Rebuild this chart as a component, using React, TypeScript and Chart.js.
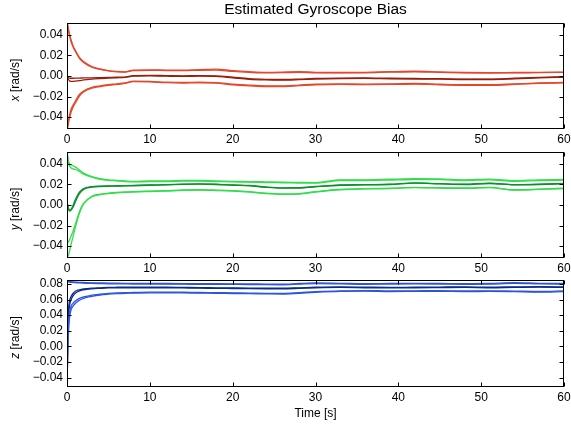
import React, { useEffect, useRef } from 'react';
import { Chart, registerables } from 'chart.js';

Chart.register(...registerables);

const FONT = "'Liberation Sans', Arial, Helvetica, sans-serif";

const times = [0, 0.15, 0.3, 0.5, 0.75, 1, 1.5, 2, 3, 4, 5, 6, 7, 8, 10, 12, 14, 16, 18, 20, 22, 24, 26, 28, 30, 33, 36, 39, 42, 45, 48, 51, 54, 57, 60];
const xTicks = [0, 10, 20, 30, 40, 50, 60];
const title = 'Estimated Gyroscope Bias';
const xLabel = 'Time [s]';

// x-axis gyro bias
const xUpperA = [0.054, 0.047, 0.041, 0.035, 0.029, 0.025, 0.018, 0.014, 0.0092, 0.0068, 0.0052, 0.0044, 0.004, 0.0058, 0.006, 0.0058, 0.0058, 0.0062, 0.0066, 0.0052, 0.0042, 0.0036, 0.0038, 0.0042, 0.0036, 0.0034, 0.0036, 0.0042, 0.0046, 0.004, 0.0034, 0.0032, 0.0034, 0.0036, 0.0038];
const xUpperB = [0.052, 0.045, 0.039, 0.033, 0.028, 0.024, 0.0172, 0.0132, 0.0086, 0.0064, 0.0049, 0.0041, 0.0037, 0.0052, 0.0055, 0.0053, 0.0052, 0.0056, 0.0058, 0.0045, 0.0036, 0.003, 0.0032, 0.0036, 0.0031, 0.003, 0.0031, 0.0037, 0.0041, 0.0036, 0.003, 0.0028, 0.003, 0.0033, 0.0035];
const xMidA = [-0.001, -0.0015, -0.002, -0.0022, -0.0022, -0.0021, -0.002, -0.0019, -0.0018, -0.0016, -0.0014, -0.0012, -0.001, 0.0004, 0.0006, 0.0004, 0.0002, 0.0004, 0.0002, -0.0012, -0.0026, -0.0032, -0.0034, -0.003, -0.0024, -0.002, -0.0018, -0.0022, -0.0024, -0.0026, -0.003, -0.003, -0.0022, -0.0014, -0.0008];
const xMidB = [-0.001, -0.003, -0.0045, -0.0052, -0.0052, -0.005, -0.0045, -0.0038, -0.003, -0.0025, -0.0021, -0.0017, -0.0013, -0.0002, 0.0001, -0.0002, -0.0004, -0.0001, -0.0004, -0.0018, -0.0032, -0.0038, -0.004, -0.0036, -0.003, -0.0025, -0.0023, -0.0027, -0.0029, -0.003, -0.0034, -0.0034, -0.0027, -0.0019, -0.0012];
const xLowerA = [-0.054, -0.047, -0.041, -0.035, -0.03, -0.0265, -0.0195, -0.0155, -0.0118, -0.0102, -0.009, -0.0082, -0.0072, -0.0055, -0.0058, -0.0065, -0.0068, -0.0066, -0.007, -0.0085, -0.0095, -0.0102, -0.0102, -0.0094, -0.0086, -0.0082, -0.0084, -0.0082, -0.0078, -0.0086, -0.009, -0.009, -0.0082, -0.0072, -0.0066];
const xLowerB = [-0.052, -0.044, -0.038, -0.032, -0.028, -0.0245, -0.018, -0.0145, -0.011, -0.0095, -0.0084, -0.0077, -0.0068, -0.005, -0.0053, -0.006, -0.0063, -0.006, -0.0064, -0.0078, -0.0088, -0.0095, -0.0096, -0.0088, -0.008, -0.0076, -0.0078, -0.0077, -0.0073, -0.008, -0.0085, -0.0085, -0.0077, -0.0068, -0.0062];

// y-axis gyro bias
const yUpperA = [0.054, 0.044, 0.04, 0.039, 0.038, 0.037, 0.034, 0.031, 0.0275, 0.0255, 0.0245, 0.024, 0.0235, 0.023, 0.0235, 0.0235, 0.024, 0.0238, 0.0235, 0.023, 0.0228, 0.0225, 0.0222, 0.022, 0.0218, 0.0244, 0.0245, 0.025, 0.0255, 0.0254, 0.0245, 0.0252, 0.0237, 0.0245, 0.0248];
const yUpperB = [0.05, 0.041, 0.038, 0.036, 0.035, 0.0345, 0.0325, 0.03, 0.027, 0.025, 0.024, 0.0235, 0.0228, 0.0224, 0.0228, 0.0228, 0.0233, 0.0232, 0.0228, 0.0224, 0.0222, 0.0218, 0.0216, 0.0214, 0.0212, 0.0238, 0.0238, 0.0243, 0.0248, 0.0247, 0.0238, 0.0245, 0.0231, 0.0238, 0.0241];
const yMidA = [0.003, -0.002, -0.005, -0.004, 0.0, 0.005, 0.0125, 0.016, 0.0178, 0.0183, 0.0185, 0.0187, 0.0188, 0.019, 0.0195, 0.0198, 0.0203, 0.0205, 0.0202, 0.0195, 0.019, 0.0175, 0.0167, 0.0168, 0.018, 0.0195, 0.0198, 0.0202, 0.0215, 0.0208, 0.0202, 0.0212, 0.0198, 0.0202, 0.021];
const yMidB = [0.001, -0.004, -0.006, -0.005, -0.002, 0.003, 0.011, 0.0152, 0.0175, 0.018, 0.0182, 0.0184, 0.0185, 0.0187, 0.0192, 0.0195, 0.02, 0.0202, 0.0199, 0.0192, 0.0187, 0.0172, 0.0164, 0.0165, 0.0177, 0.0192, 0.0195, 0.0199, 0.0212, 0.0205, 0.0199, 0.0209, 0.0195, 0.0199, 0.0207];
const yLowerA = [-0.052, -0.049, -0.045, -0.038, -0.03, -0.022, -0.008, 0.001, 0.0085, 0.0105, 0.0115, 0.0122, 0.0127, 0.013, 0.0135, 0.014, 0.0146, 0.0148, 0.0145, 0.014, 0.013, 0.0115, 0.0108, 0.011, 0.013, 0.0152, 0.016, 0.0163, 0.0172, 0.0168, 0.0165, 0.0172, 0.0148, 0.0155, 0.0163];
const yLowerB = [-0.038, -0.036, -0.034, -0.03, -0.025, -0.019, -0.0065, 0.0015, 0.008, 0.01, 0.0111, 0.0118, 0.0123, 0.0126, 0.0131, 0.0136, 0.0142, 0.0144, 0.0141, 0.0136, 0.0126, 0.0111, 0.0104, 0.0106, 0.0126, 0.0148, 0.0156, 0.0159, 0.0168, 0.0164, 0.0161, 0.0168, 0.0144, 0.0151, 0.0159];

// z-axis gyro bias
const zUpperA = [0.084, 0.0835, 0.083, 0.0828, 0.0826, 0.0824, 0.082, 0.0818, 0.0814, 0.0812, 0.081, 0.0809, 0.0808, 0.0807, 0.0806, 0.0805, 0.0804, 0.0803, 0.0802, 0.0801, 0.08, 0.0798, 0.0797, 0.0805, 0.0812, 0.0808, 0.0803, 0.0806, 0.0808, 0.0806, 0.0803, 0.0805, 0.0815, 0.0808, 0.0806];
const zUpperB = [0.083, 0.0826, 0.0822, 0.082, 0.0818, 0.0816, 0.0812, 0.081, 0.0806, 0.0804, 0.0802, 0.0801, 0.08, 0.0799, 0.0798, 0.0797, 0.0796, 0.0795, 0.0794, 0.0793, 0.0792, 0.079, 0.0789, 0.0797, 0.0804, 0.08, 0.0795, 0.0798, 0.08, 0.0798, 0.0795, 0.0797, 0.0806, 0.08, 0.0798];
const zMidA = [0.025, 0.045, 0.058, 0.064, 0.068, 0.0705, 0.0725, 0.0735, 0.0745, 0.075, 0.0755, 0.0757, 0.0758, 0.0758, 0.0758, 0.0757, 0.0755, 0.0753, 0.075, 0.0748, 0.0746, 0.0745, 0.0745, 0.075, 0.0757, 0.0762, 0.0758, 0.0755, 0.0758, 0.076, 0.0762, 0.0758, 0.0762, 0.0765, 0.0762];
const zMidB = [0.015, 0.038, 0.052, 0.06, 0.065, 0.068, 0.0712, 0.0725, 0.0737, 0.0743, 0.0748, 0.075, 0.0751, 0.0751, 0.0751, 0.075, 0.0748, 0.0746, 0.0743, 0.0741, 0.0739, 0.0738, 0.0738, 0.0743, 0.075, 0.0755, 0.0751, 0.0748, 0.0751, 0.0753, 0.0755, 0.0751, 0.0755, 0.0758, 0.0755];
const zLowerA = [-0.052, 0.02, 0.043, 0.0515, 0.0555, 0.058, 0.0615, 0.0635, 0.0655, 0.067, 0.0678, 0.0684, 0.0688, 0.069, 0.0694, 0.0695, 0.0693, 0.069, 0.0688, 0.0685, 0.0683, 0.068, 0.0678, 0.0688, 0.07, 0.0712, 0.0715, 0.071, 0.0712, 0.0714, 0.071, 0.0712, 0.0708, 0.0703, 0.071];
const zLowerB = [-0.045, 0.01, 0.036, 0.047, 0.052, 0.055, 0.059, 0.0615, 0.064, 0.0658, 0.0668, 0.0675, 0.068, 0.0682, 0.0686, 0.0687, 0.0685, 0.0682, 0.068, 0.0677, 0.0675, 0.0672, 0.067, 0.068, 0.0692, 0.0704, 0.0707, 0.0702, 0.0704, 0.0706, 0.0702, 0.0704, 0.07, 0.0695, 0.0702];

const panels = [
  {
    v: 'x', top: 23, bottom: 129, min: -0.0515, max: 0.0515,
    bound: '#e6472c', mid: '#9a1d0a',
    lines: [[xUpperA, 'b'], [xUpperB, 'b'], [xLowerA, 'b'], [xLowerB, 'b'], [xMidA, 'm'], [xMidB, 'm']],
  },
  {
    v: 'y', top: 152, bottom: 258, min: -0.0515, max: 0.0515,
    bound: '#33dd4d', mid: '#0e8f2c',
    lines: [[yUpperA, 'b'], [yUpperB, 'b'], [yLowerA, 'b'], [yLowerB, 'b'], [yMidA, 'm'], [yMidB, 'm']],
  },
  {
    v: 'z', top: 280, bottom: 387, min: -0.052, max: 0.085,
    bound: '#2b55e0', mid: '#0d2a8e',
    lines: [[zUpperA, 'b'], [zUpperB, 'b'], [zLowerA, 'b'], [zLowerB, 'b'], [zMidA, 'm'], [zMidB, 'm']],
  },
];

function fmt(v: number) {
  if (Math.abs(v) < 1e-9) return '0.00';
  const s = v.toFixed(2);
  return s.startsWith('-') ? '\u2212' + s.slice(1) : s;
}

function makeFramePlugin(varName: string) {
  return {
    id: 'frame_' + varName,
    afterDraw(chart: any) {
      const { ctx, chartArea: a, scales } = chart;
      const L = Math.round(a.left) + 0.5;
      const R = Math.round(a.right) - 0.5;
      const T = Math.round(a.top) + 0.5;
      const B = Math.round(a.bottom) - 0.5;
      ctx.save();
      ctx.strokeStyle = '#000';
      ctx.lineWidth = 1;
      ctx.strokeRect(L, T, R - L, B - T);
      const tl = 4;
      ctx.beginPath();
      scales.x.ticks.forEach((t: any) => {
        const p = Math.round(scales.x.getPixelForValue(t.value)) + 0.5;
        ctx.moveTo(p, B); ctx.lineTo(p, B - tl);
        ctx.moveTo(p, T); ctx.lineTo(p, T + tl);
      });
      scales.y.ticks.forEach((t: any) => {
        const p = Math.round(scales.y.getPixelForValue(t.value)) + 0.5;
        ctx.moveTo(L, p); ctx.lineTo(L + tl, p);
        ctx.moveTo(R, p); ctx.lineTo(R - tl, p);
      });
      ctx.stroke();
      // y label with italic variable
      ctx.fillStyle = '#000';
      ctx.textBaseline = 'middle';
      const italic = `italic 12px ${FONT}`;
      const normal = `12px ${FONT}`;
      ctx.font = italic;
      const w1 = ctx.measureText(varName).width;
      ctx.font = normal;
      const rest = ' [rad/s]';
      const w2 = ctx.measureText(rest).width;
      ctx.translate(16, (a.top + a.bottom) / 2 + 4);
      ctx.rotate(-Math.PI / 2);
      const x0 = -(w1 + w2) / 2;
      ctx.font = italic;
      ctx.fillText(varName, x0, 0);
      ctx.font = normal;
      ctx.fillText(rest, x0 + w1, 0);
      ctx.restore();
    },
  };
}

export default function App() {
  const refs = [useRef<HTMLCanvasElement>(null), useRef<HTMLCanvasElement>(null), useRef<HTMLCanvasElement>(null)];

  useEffect(() => {
    const charts: Chart[] = [];
    panels.forEach((p, i) => {
      const isFirst = i === 0;
      const isLast = i === panels.length - 1;
      const axisH = isLast ? 34 : 20;
      const cfg: any = {
        type: 'line',
        data: {
          datasets: p.lines.map(([arr, kind]: any) => ({
            data: times.map((t, k) => ({ x: t, y: arr[k] })),
            borderColor: kind === 'm' ? p.mid : p.bound,
            borderWidth: 1.3,
            pointRadius: 0,
            fill: false,
            cubicInterpolationMode: 'monotone',
          })),
        },
        options: {
          responsive: false,
          animation: false,
          events: [],
          layout: {
            padding: {
              left: 0,
              right: 7,
              top: isFirst ? 0 : p.top,
              bottom: 428 - p.bottom - axisH,
            },
          },
          plugins: {
            legend: { display: false },
            tooltip: { enabled: false },
            title: {
              display: isFirst,
              text: title,
              fullSize: false,
              color: '#000',
              font: { family: FONT, size: 15.5, weight: 'normal', lineHeight: 1.2 },
              padding: { top: 0.5, bottom: 3.9 },
            },
          },
          scales: {
            x: {
              type: 'linear',
              min: 0,
              max: 60,
              afterBuildTicks: (s: any) => { s.ticks = xTicks.map((v) => ({ value: v })); },
              ticks: {
                color: '#000',
                font: { family: FONT, size: 12 },
                padding: 3,
                maxRotation: 0,
                autoSkip: false,
              },
              grid: { display: false, drawTicks: false },
              border: { display: false },
              title: {
                display: isLast,
                text: xLabel,
                color: '#000',
                font: { family: FONT, size: 12 },
                padding: { top: 0, bottom: 0 },
              },
              afterFit: (s: any) => { s.height = axisH; s.paddingLeft = 0; s.paddingRight = 0; },
            },
            y: {
              type: 'linear',
              min: p.min,
              max: p.max,
              ticks: {
                stepSize: 0.02,
                includeBounds: false,
                color: '#000',
                font: { family: FONT, size: 12 },
                padding: 4,
                callback: (v: any) => fmt(Number(v)),
              },
              grid: { display: false, drawTicks: false },
              border: { display: false },
              afterFit: (s: any) => { s.width = 67; s.paddingTop = 0; s.paddingBottom = 0; },
            },
          },
        },
        plugins: [makeFramePlugin(p.v)],
      };
      const c = refs[i].current;
      if (c) charts.push(new Chart(c, cfg));
    });
    return () => charts.forEach((c) => c.destroy());
  }, []);

  const canvasStyle: React.CSSProperties = { position: 'absolute', left: 0, top: 0, width: 571, height: 428 };
  return (
    <div style={{ position: 'fixed', left: 0, top: 0, width: 571, height: 428, background: '#fff', overflow: 'hidden' }}>
      {refs.map((r, i) => (
        <canvas key={i} ref={r} width={571} height={428} style={canvasStyle} />
      ))}
    </div>
  );
}
